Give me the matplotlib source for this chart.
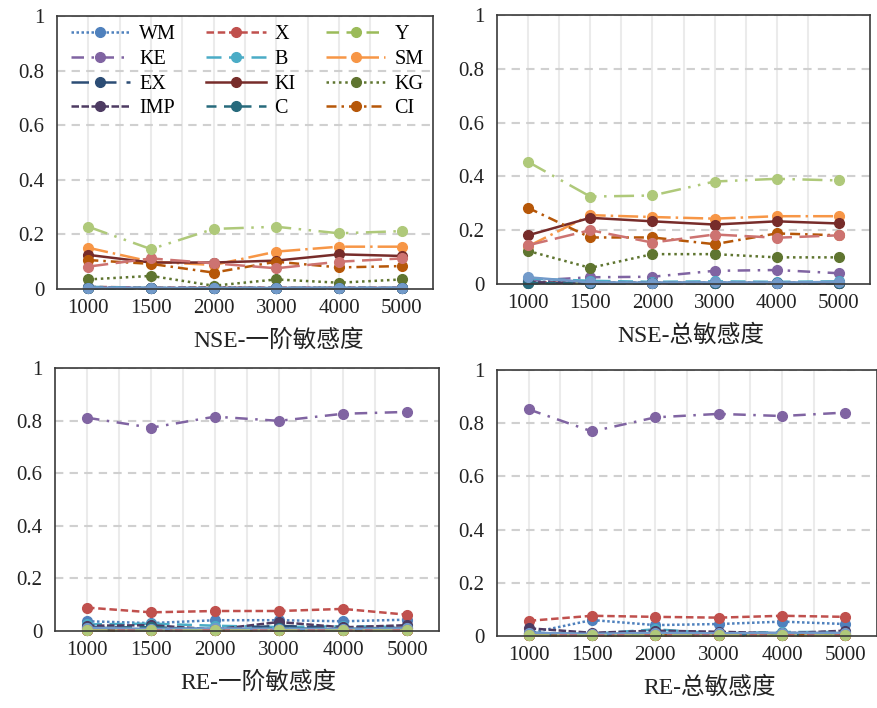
import matplotlib
matplotlib.use('Agg')
import matplotlib.pyplot as plt

plt.rcParams['font.family'] = ['Liberation Serif', 'Noto Sans CJK SC', 'DejaVu Sans']

x_labels = ['1000', '1500', '2000', '3000', '4000', '5000']

# 12 named series + 3 unnamed ones (not listed in the legend)
names = ['WM', 'X', 'Y', 'KE', 'B', 'SM', 'EX', 'KI', 'KG', 'IMP', 'C', 'CI',
         '_s13', '_s14', '_s15']

nse_first = [
    [0.005, 0.003, 0.004, 0.003, 0.004, 0.003],   # WM
    [0.008, 0.005, 0.004, 0.005, 0.004, 0.005],   # X
    [0.003, 0.002, 0.002, 0.002, 0.002, 0.002],   # Y
    [0.006, 0.004, 0.003, 0.004, 0.003, 0.004],   # KE
    [0.008, 0.004, 0.003, 0.004, 0.004, 0.004],   # B
    [0.151, 0.100, 0.088, 0.137, 0.155, 0.155],   # SM
    [0.003, 0.002, 0.002, 0.002, 0.002, 0.002],   # EX
    [0.125, 0.097, 0.097, 0.104, 0.127, 0.121],   # KI
    [0.035, 0.048, 0.012, 0.035, 0.023, 0.035],   # KG
    [0.004, 0.003, 0.005, 0.003, 0.004, 0.003],   # IMP
    [0.002, 0.002, 0.002, 0.002, 0.002, 0.002],   # C
    [0.106, 0.092, 0.060, 0.100, 0.079, 0.084],   # CI
    [0.005, 0.004, 0.003, 0.004, 0.004, 0.004],
    [0.082, 0.112, 0.094, 0.076, 0.100, 0.112],
    [0.228, 0.146, 0.220, 0.228, 0.204, 0.212],
]

nse_total = [
    [0.010, 0.005, 0.005, 0.005, 0.005, 0.005],
    [0.006, 0.004, 0.004, 0.004, 0.004, 0.004],
    [0.003, 0.002, 0.002, 0.002, 0.002, 0.002],
    [0.012, 0.025, 0.027, 0.049, 0.052, 0.040],
    [0.020, 0.012, 0.008, 0.010, 0.008, 0.010],
    [0.140, 0.256, 0.249, 0.243, 0.252, 0.252],
    [0.004, 0.003, 0.003, 0.003, 0.003, 0.003],
    [0.181, 0.246, 0.233, 0.221, 0.233, 0.225],
    [0.123, 0.060, 0.111, 0.111, 0.099, 0.099],
    [0.006, 0.004, 0.004, 0.004, 0.004, 0.004],
    [0.003, 0.002, 0.002, 0.002, 0.002, 0.002],
    [0.283, 0.173, 0.173, 0.148, 0.188, 0.181],
    [0.025, 0.006, 0.005, 0.006, 0.005, 0.008],
    [0.144, 0.200, 0.154, 0.184, 0.172, 0.181],
    [0.454, 0.325, 0.329, 0.381, 0.391, 0.385],
]

re_first = [
    [0.037, 0.030, 0.041, 0.041, 0.037, 0.043],
    [0.089, 0.071, 0.076, 0.076, 0.084, 0.062],
    [0.002, 0.002, 0.002, 0.002, 0.002, 0.002],
    [0.811, 0.773, 0.815, 0.799, 0.826, 0.833],
    [0.025, 0.028, 0.020, 0.015, 0.018, 0.015],
    [0.003, 0.003, 0.003, 0.003, 0.003, 0.003],
    [0.015, 0.012, 0.006, 0.020, 0.010, 0.012],
    [0.004, 0.003, 0.003, 0.003, 0.003, 0.003],
    [0.003, 0.003, 0.003, 0.003, 0.003, 0.003],
    [0.020, 0.022, 0.006, 0.034, 0.014, 0.022],
    [0.010, 0.015, 0.005, 0.010, 0.008, 0.010],
    [0.003, 0.002, 0.002, 0.002, 0.002, 0.002],
    [0.012, 0.008, 0.010, 0.008, 0.008, 0.010],
    [0.002, 0.002, 0.002, 0.002, 0.002, 0.002],
    [0.003, 0.003, 0.003, 0.003, 0.003, 0.003],
]

re_total = [
    [0.010, 0.060, 0.041, 0.045, 0.054, 0.045],
    [0.057, 0.076, 0.072, 0.069, 0.076, 0.072],
    [0.002, 0.002, 0.002, 0.002, 0.002, 0.002],
    [0.852, 0.769, 0.822, 0.835, 0.827, 0.840],
    [0.012, 0.008, 0.025, 0.010, 0.015, 0.015],
    [0.003, 0.003, 0.003, 0.003, 0.003, 0.003],
    [0.012, 0.006, 0.010, 0.008, 0.006, 0.008],
    [0.004, 0.003, 0.003, 0.003, 0.003, 0.003],
    [0.003, 0.003, 0.003, 0.003, 0.003, 0.003],
    [0.029, 0.012, 0.020, 0.016, 0.010, 0.020],
    [0.008, 0.005, 0.006, 0.006, 0.005, 0.006],
    [0.003, 0.002, 0.002, 0.002, 0.002, 0.002],
    [0.012, 0.008, 0.012, 0.010, 0.012, 0.012],
    [0.002, 0.002, 0.002, 0.002, 0.002, 0.002],
    [0.003, 0.003, 0.003, 0.003, 0.003, 0.003],
]

colors = ['#4F81BD', '#C0504D', '#9BBB59', '#8064A2', '#4BACC6', '#F79646',
          '#2C4D75', '#772C2A', '#5F7530', '#4D3B62', '#276A7C', '#B65708',
          '#729ACA', '#CD7371', '#AFC97A']
styles = [(0, (1, 1)), (0, (3, 1.5)), (0, (5, 3)), (0, (5, 3, 1, 3)),
          (0, (6, 3)), (0, (8, 2, 1, 2)), (0, (7, 4)), '-', (0, (1, 1.5)),
          (0, (3, 1)), (0, (4, 3)), (0, (4, 2, 1, 2)), '-', (0, (8, 3)),
          (0, (8, 3, 1, 3, 1, 3))]

panels = [
    (nse_first, 'NSE-一阶敏感度', [57, 16, 433, 289], 0.59),
    (nse_total, 'NSE-总敏感度', [497, 15, 870, 284], 0.52),
    (re_first, 'RE-一阶敏感度', [55, 368, 439, 631], 0.53),
    (re_total, 'RE-总敏感度', [497, 370, 877, 636], 0.56),
]

W, H = 877, 708
fig = plt.figure(figsize=(W / 100, H / 100), dpi=100)

for k, (data, title, box, lx) in enumerate(panels):
    x0, y0, x1, y1 = box
    ax = fig.add_axes([x0 / W, 1 - y1 / H, (x1 - x0) / W, (y1 - y0) / H])
    xs = range(len(x_labels))
    lines = []
    for i, vals in enumerate(data):
        ln, = ax.plot(xs, vals, color=colors[i], linestyle=styles[i], lw=1.8,
                      marker='o', markersize=7, label=names[i], clip_on=False)
        lines.append(ln)
    ax.set_xlim(-0.5, 5.5)
    ax.set_ylim(0, 1)
    ax.set_xticks(list(xs))
    ax.set_xticklabels(x_labels)
    ax.set_yticks([0, 0.2, 0.4, 0.6, 0.8, 1])
    ax.set_yticklabels(['0', '0.2', '0.4', '0.6', '0.8', '1'])
    ax.tick_params(length=0, labelsize=15, colors='#222222')
    ax.tick_params(axis='x', pad=7)
    ax.tick_params(axis='y', pad=9)
    for g in [i * 0.5 for i in range(1, 11)]:
        ax.axvline(g - 0.5, color='#EBEBEB', lw=1.5, zorder=0)
    for g in [0.2, 0.4, 0.6, 0.8, 1.0]:
        ax.axhline(g, color='#D0D0D0', lw=1.5, ls=(0, (4, 3)), zorder=0.5)
    for s in ax.spines.values():
        s.set_color('#3A3A3A')
        s.set_linewidth(1.2)
    ax.set_xlabel(title, fontsize=17, color='#222222')
    ax.xaxis.label.set_va('center')
    ax.xaxis.set_label_coords(lx, -52 / (y1 - y0))
    if k == 0:
        # row-major legend order with 3 columns
        order = [0, 3, 6, 9, 1, 4, 7, 10, 2, 5, 8, 11]
        ax.legend([lines[j] for j in order], [names[j] for j in order],
                  loc='upper left', bbox_to_anchor=(0.012, 1.0), ncol=3,
                  frameon=False, fontsize=14.5, handlelength=2.95,
                  columnspacing=1.5, handletextpad=0.45, labelspacing=0.28,
                  borderaxespad=0.0, borderpad=0.45)

plt.savefig('out.png', dpi=100)
